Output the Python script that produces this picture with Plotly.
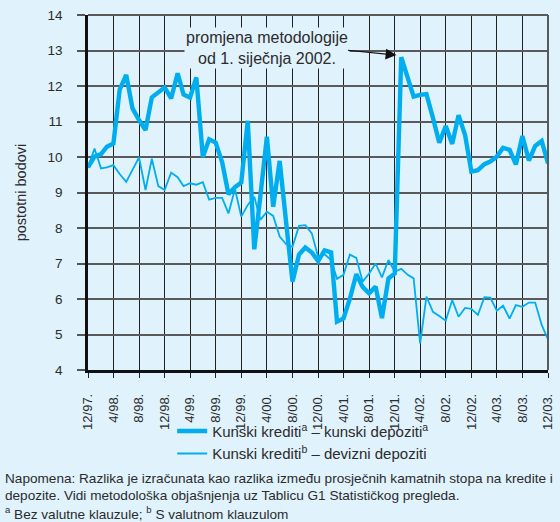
import pandas as pd
import plotly.graph_objects as go

# ---- data ----
months = pd.date_range("1997-12-01", periods=73, freq="MS")

kunski_kunski = [
    9.71, 10.01, 10.08, 10.29, 10.38, 11.90, 12.31, 11.37, 11.04, 10.76,
    11.68, 11.82, 11.96, 11.65, 12.36, 11.76, 11.67, 12.24, 10.00, 10.50,
    10.41, 9.85, 8.95, 9.15, 9.28, 11.02, 7.40, 8.90, 10.57, 8.60,
    9.89, 8.20, 6.49, 7.25, 7.45, 7.31, 7.07, 7.37, 7.31, 5.36,
    5.45, 6.00, 6.70, 6.34, 6.16, 6.35, 5.46, 6.58, 6.72, 12.81,
    12.25, 11.70, 11.75, 11.77, 11.10, 10.40, 10.87, 10.37, 11.18, 10.62,
    9.59, 9.63, 9.80, 9.87, 10.01, 10.26, 10.20, 9.79, 10.59, 9.90,
    10.31, 10.45, 9.82,
]

kunski_devizni = [
    9.70, 10.24, 9.68, 9.71, 9.77, 9.52, 9.30, 9.63, 9.99, 9.07,
    9.95, 9.18, 9.07, 9.56, 9.43, 9.18, 9.26, 9.22, 9.29, 8.80,
    8.85, 8.85, 8.41, 9.10, 8.32, 8.65, 8.88, 8.23, 8.46, 8.34,
    7.76, 7.55, 7.47, 8.06, 8.08, 7.85, 7.19, 7.26, 7.10, 6.57,
    6.68, 7.25, 7.16, 6.49, 6.72, 7.00, 6.61, 7.10, 6.77, 6.85,
    6.68, 6.58, 4.75, 6.07, 5.64, 5.52, 5.39, 5.97, 5.50, 5.75,
    5.72, 5.55, 6.05, 6.04, 5.67, 5.81, 5.45, 5.83, 5.78, 5.90,
    5.90, 5.27, 4.86,
]

tick_dates = list(months[::4])
tick_labels = ["12/97.", "4/98.", "8/98.", "12/98.", "4/99.", "8/99.", "12/99.",
               "4/00.", "8/00.", "12/00.", "4/01.", "8/01.", "12/01.", "4/02.",
               "8/02.", "12/02.", "4/03.", "8/03.", "12/03."]

series_names = ["Kunski krediti<sup>a</sup> – kunski depoziti<sup>a</sup>",
                "Kunski krediti<sup>b</sup> – devizni depoziti"]

BG = "#e0f2fc"
LINE = "#00aeef"
TXT = "#2b2b2b"
FONT = "Liberation Sans, Arial, sans-serif"

fig = go.Figure()
fig.add_trace(go.Scatter(x=months, y=kunski_kunski, mode="lines",
                         name=series_names[0],
                         line=dict(color=LINE, width=4.4)))
fig.add_trace(go.Scatter(x=months, y=kunski_devizni, mode="lines",
                         name=series_names[1],
                         line=dict(color=LINE, width=1.8)))

fig.update_layout(
    width=560, height=522,
    margin=dict(l=88, r=5, t=15, b=152),
    paper_bgcolor=BG, plot_bgcolor=BG,
    font=dict(family=FONT, color=TXT, size=13),
    showlegend=True,
    legend=dict(x=0.183, y=-0.281, xanchor="left", yanchor="bottom",
                bgcolor="rgba(0,0,0,0)", font=dict(size=15, color=TXT),
                tracegroupgap=0, itemwidth=30),
)

fig.update_xaxes(
    range=[months[0], months[-1]],
    tickmode="array", tickvals=tick_dates,
    ticktext=[t + "\u00a0\u00a0\u00a0" for t in tick_labels],
    tickangle=-90, tickfont=dict(size=13, color=TXT),
    ticks="outside", ticklen=5, tickwidth=1.2, tickcolor="#222",
    ticklabeloverflow="allow",
    showgrid=True, gridcolor="#222", gridwidth=1.3,
    showline=True, linecolor="#111", linewidth=2.5,
    zeroline=False,
)
fig.update_yaxes(
    range=[4, 14], tickmode="linear", tick0=4, dtick=1,
    tickfont=dict(size=13.5, color=TXT),
    ticks="outside", ticklen=8, tickwidth=1.5, tickcolor="#555",
    ticklabelstandoff=12,
    showgrid=True, gridcolor="#5a5a5a", gridwidth=1.8,
    showline=True, linecolor="#111", linewidth=2.5,
    zeroline=False,
    title=dict(text="postotni bodovi", font=dict(size=14.5, color=TXT), standoff=18),
)

# top and right frame
fig.add_shape(type="line", xref="paper", yref="paper", x0=0, x1=1, y0=1, y1=1,
              line=dict(color="#5a5a5a", width=2))
fig.add_shape(type="line", xref="paper", yref="paper", x0=1, x1=1, y0=0, y1=1,
              line=dict(color="#5a5a5a", width=2))

# annotation for methodology change
fig.add_annotation(
    x=0.39, y=0.908, xref="paper", yref="paper",
    xanchor="center", yanchor="middle",
    text="promjena metodologije<br>od 1. siječnja 2002.",
    showarrow=False, font=dict(size=16, color=TXT),
    bgcolor=BG, borderpad=1, align="center",
)
fig.add_annotation(
    x=months[48] + pd.Timedelta(days=8), y=12.87, xref="x", yref="y",
    text="", showarrow=True, arrowhead=2, arrowsize=1.8, arrowwidth=1.2,
    arrowcolor="#111", ax=-50, ay=-5, standoff=0,
)

# footnotes
notes = [
    "Napomena: Razlika je izračunata kao razlika između prosječnih kamatnih stopa na kredite i",
    "depozite. Vidi metodološka objašnjenja uz Tablicu G1 Statističkog pregleda.",
    "<sup>a</sup> Bez valutne klauzule; <sup>b</sup> S valutnom klauzulom",
]
note_y = [478, 495, 513]
for t, py in zip(notes, note_y):
    fig.add_annotation(
        x=(2 - 88) / 467, y=(370 - py) / 355, xref="paper", yref="paper",
        xanchor="left", yanchor="middle", text=t, showarrow=False,
        font=dict(size=13.6, color=TXT), align="left",
    )

fig.write_html("out.html",
               config={"displayModeBar": False},
               post_script="document.body.style.margin='0px';"
                           "document.body.style.background='%s';" % BG)
